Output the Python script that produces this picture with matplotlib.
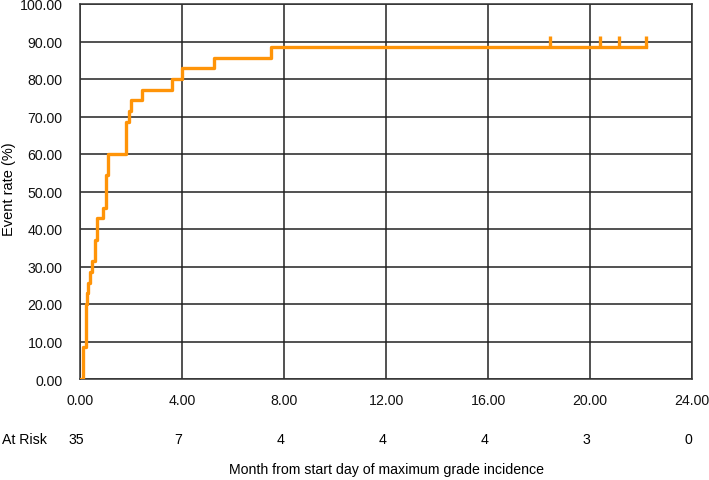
import numpy as np
import matplotlib.pyplot as plt
import matplotlib.transforms as mtransforms

plt.rcParams['font.family'] = ['Liberation Sans', 'DejaVu Sans']

# KM-style cumulative event curve (step after each time)
times = [0, 0.10, 0.23, 0.28, 0.33, 0.38, 0.49, 0.57, 0.68, 0.90, 1.03, 1.09,
         1.82, 1.92, 2.00, 2.45, 3.62, 4.01, 5.27, 7.50, 22.2]
rates = [0, 8.57, 20.00, 22.86, 25.71, 28.57, 31.43, 37.14, 42.86, 45.71, 54.29, 60.00,
         68.57, 71.43, 74.29, 77.14, 80.00, 82.86, 85.71, 88.57, 88.57]
censored = [18.45, 20.38, 21.13, 22.2]

risk_times = [0, 4, 8, 12, 16, 20, 24]
at_risk = [35, 7, 4, 4, 4, 3, 0]

orange = '#FF9408'

fig = plt.figure(figsize=(7.09, 4.81), dpi=100)
ax = fig.add_axes([80/709, 1 - 380/481, 612/709, 375/481])

ax.step(times, rates, where='post', color=orange, lw=2.4, zorder=3)
ax.vlines(censored, 88.57, 91.6, color=orange, lw=2.4, zorder=3)

ax.set_xlim(0, 24)
ax.set_ylim(0, 100)
ax.set_xticks(risk_times)
ax.set_xticklabels(['%.2f' % t for t in risk_times])
ax.set_yticks(np.arange(0, 101, 10))
ax.set_yticklabels(['%.2f' % v for v in np.arange(0, 101, 10)])
ax.grid(True, color='#222222', lw=1.1)
ax.set_axisbelow(True)
ax.tick_params(length=0, labelsize=10.2, colors='#111111')
ax.tick_params(axis='x', pad=10)
ax.tick_params(axis='y', pad=12.5)
for s in ax.spines.values():
    s.set_color('#333333')
    s.set_linewidth(1.1)

fig.text(9/709, 1 - 189/481, 'Event rate (%)', rotation=90, ha='center', va='center',
         fontsize=10.5)

# number at risk row
trans = mtransforms.blended_transform_factory(ax.transData, ax.transAxes)
for t, n in zip(risk_times, at_risk):
    ax.text(t - 0.15, -60/375, str(n), transform=trans, ha='center', va='center',
            fontsize=10.2, clip_on=False)
fig.text(2/709, 1 - 440/481, 'At Risk', ha='left', va='center', fontsize=10.2)

fig.text((80 + 306)/709, 1 - 470/481, 'Month from start day of maximum grade incidence',
         ha='center', va='center', fontsize=10.2)

fig.savefig('out.png', dpi=100)
